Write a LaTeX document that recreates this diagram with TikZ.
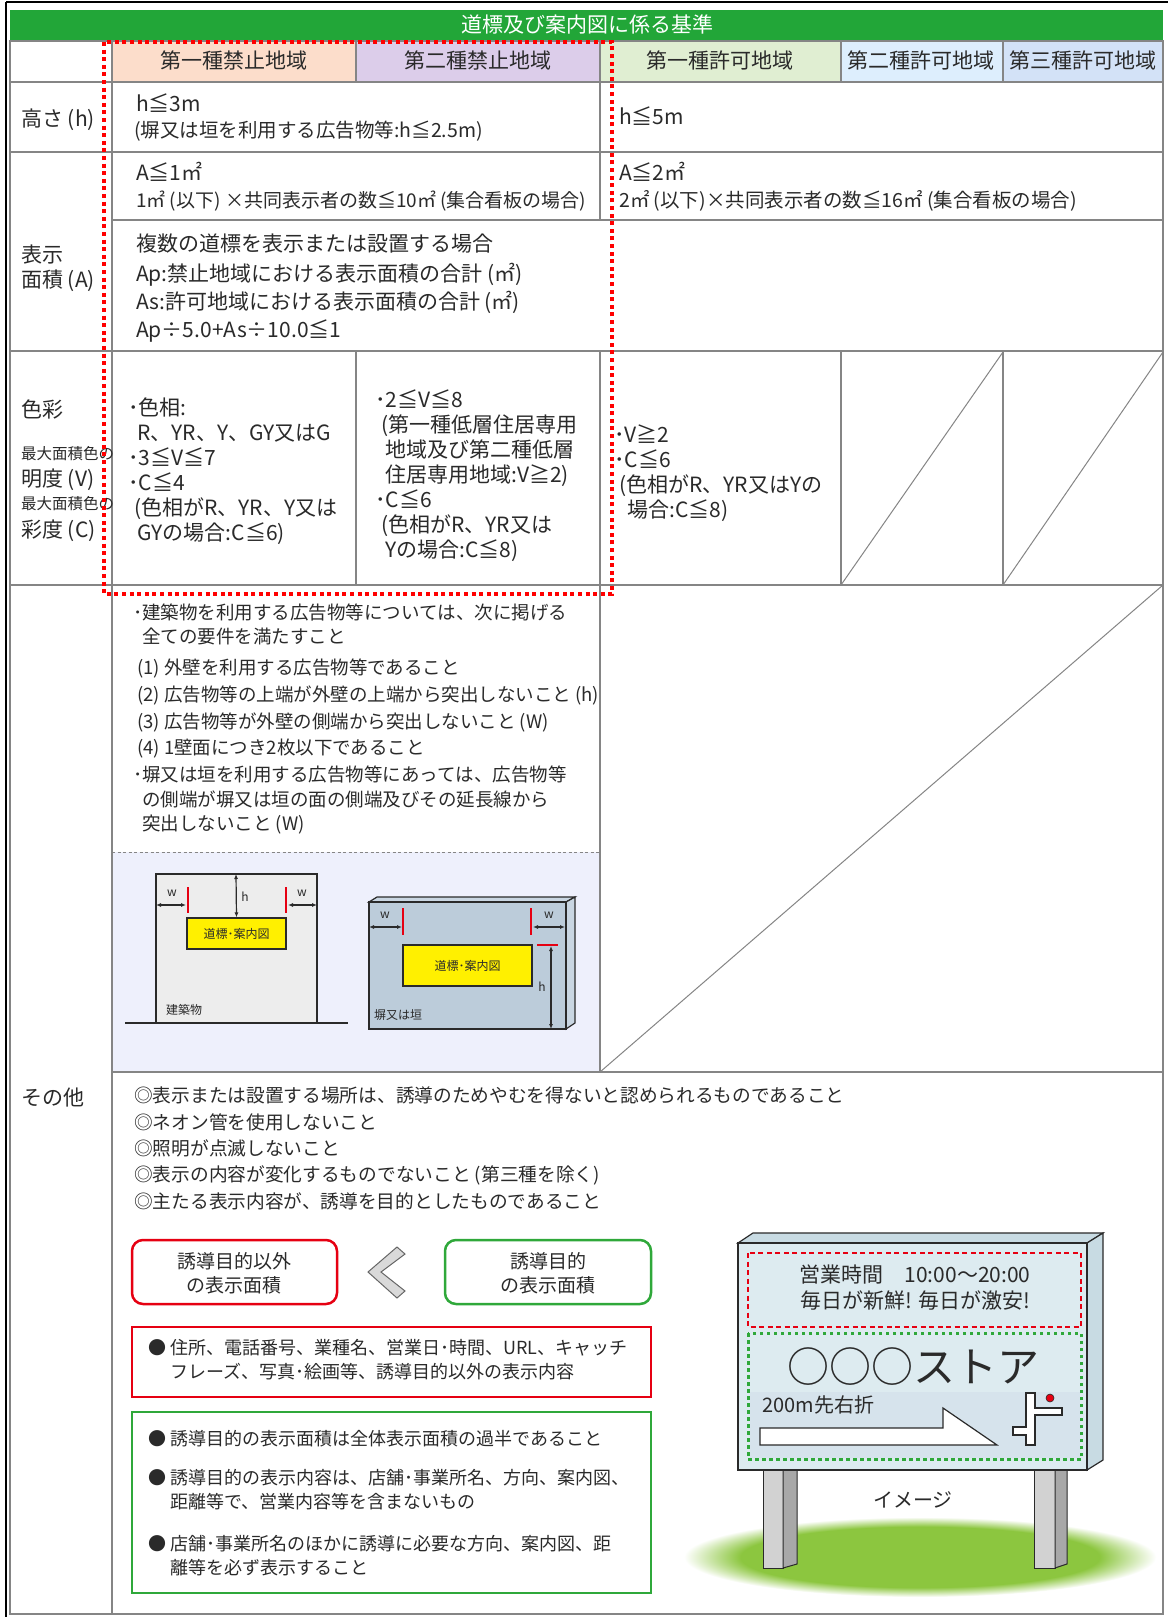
\documentclass[tikz,border=0pt]{standalone}
\usepackage{fontspec}
\setmainfont{Noto Sans CJK JP}
\usetikzlibrary{arrows.meta}
\definecolor{ink}{HTML}{2A2A2A}
\definecolor{grid}{HTML}{858585}
\definecolor{titleg}{HTML}{22A638}
\definecolor{hA}{HTML}{FCDDCB}
\definecolor{hB}{HTML}{DCCDEA}
\definecolor{hC}{HTML}{E0EED2}
\definecolor{hD}{HTML}{DDEEFD}
\definecolor{hE}{HTML}{D3E2F7}
\definecolor{illbg}{HTML}{EEF0FC}
\definecolor{bldg}{HTML}{EDEDED}
\definecolor{wall}{HTML}{BCCCDA}
\definecolor{wallf}{HTML}{C9D6E2}
\definecolor{signf}{HTML}{DDEBF0}
\definecolor{signs}{HTML}{C8DBE3}
\definecolor{band}{HTML}{D6E3EC}
\definecolor{grass}{HTML}{8CC63F}
\definecolor{redc}{HTML}{E60012}
\definecolor{greenc}{HTML}{2FA83A}
\definecolor{yel}{HTML}{FFF000}
\definecolor{postL}{HTML}{D2D2D2}
\definecolor{postD}{HTML}{A8A8A8}
\pgfdeclareradialshading{grassfade}{\pgfpoint{0bp}{0bp}}{color(0bp)=(grass); color(19bp)=(grass); color(25bp)=(white); color(50bp)=(white)}
\newcommand\T[6][base west]{\node[anchor=#1,inner sep=0pt,text=ink,font=\fontsize{#5}{#5}\selectfont] (#2) at (#3,{#4+0.38*#5}) {#6};}
\begin{document}
\begin{tikzpicture}[x=1pt,y=-1pt,
  gridline/.style={draw=grid,line width=1.3pt},
  arr/.style={ink,line width=1.2pt,{Latex[length=5pt,width=4pt]}-{Latex[length=5pt,width=4pt]}},
  tick/.style={draw=redc,line width=1.6pt},
  ybox/.style={draw=ink,fill=yel,line width=1.2pt,inner sep=0pt,text=ink,font=\fontsize{12}{12}\selectfont},
  small/.style={inner sep=0pt,text=ink,font=\fontsize{12}{12}\selectfont}]
\useasboundingbox (0,0) rectangle (1168,1617);
\fill[white] (0,0) rectangle (1168,1617);
% fills
\fill[titleg] (10,10) rectangle (1163,41);
\fill[hA] (112,41) rectangle (356,82);
\fill[hB] (356,41) rectangle (600,82);
\fill[hC] (600,41) rectangle (841,82);
\fill[hD] (841,41) rectangle (1003,82);
\fill[hE] (1003,41) rectangle (1163,82);
\fill[illbg] (112,852) rectangle (600,1072);
% grid
\draw[gridline] (10,41) rectangle (1163,1614);
\draw[gridline] (10,82) -- (1163,82);
\draw[gridline] (10,152) -- (1163,152);
\draw[gridline] (112,220) -- (1163,220);
\draw[gridline] (10,351) -- (1163,351);
\draw[gridline] (10,585) -- (1163,585);
\draw[gridline] (112,1072) -- (1163,1072);
\draw[gridline] (112,41) -- (112,1614);
\draw[gridline] (356,41) -- (356,82) (356,351) -- (356,585);
\draw[gridline] (600,41) -- (600,220) (600,351) -- (600,1072);
\draw[gridline] (841,41) -- (841,82) (841,351) -- (841,585);
\draw[gridline] (1003,41) -- (1003,82) (1003,351) -- (1003,585);
\draw[draw=grid,line width=1pt] (841,585) -- (1003,352) (1003,585) -- (1163,352) (600,1072) -- (1163,585);
\draw[draw=grid,line width=1pt,dash pattern=on 3pt off 2.5pt] (112,852) -- (600,852);
% outer black frame
\draw[black,line width=2.5pt] (6,2) -- (1168,2) (6,2) -- (6,1617);
% title and headers
\node[anchor=base,inner sep=0pt,text=white,font=\fontsize{21}{21}\selectfont] (title) at (587,{25+0.38*21}) {道標及び案内図に係る基準};
\T[base]{hd1}{234}{61}{21}{第一種禁止地域}
\T[base]{hd2}{478}{61}{21}{第二種禁止地域}
\T[base]{hd3}{720}{61}{21}{第一種許可地域}
\T[base]{hd4}{921}{61}{21}{第二種許可地域}
\T[base]{hd5}{1083}{61}{21}{第三種許可地域}
% label column
\T{lb1}{21}{119}{21}{高さ (h)}
\T{lb2}{21}{255}{21}{表示}
\T{lb3}{21}{280}{21}{面積 (A)}
\T{lb4}{21}{410}{21}{色彩}
\T{lb5}{21}{454}{15.5}{最大面積色の}
\T{lb6}{21}{479}{21}{明度 (V)}
\T{lb7}{21}{504}{15.5}{最大面積色の}
\T{lb8}{21}{530}{21}{彩度 (C)}
\T{lb9}{21}{1098}{21}{その他}
% height / area rows
\T{r1}{136}{104}{21}{h≦3m}
\T{r2}{134}{130}{19.5}{(塀又は垣を利用する広告物等:h≦2.5m)}
\T{r3}{619}{117}{21}{h≦5m}
\T{r4}{136}{173}{21}{A≦1㎡}
\T{r5}{136}{200}{19}{1㎡ (以下) ×共同表示者の数≦10㎡ (集合看板の場合)}
\T{r6}{619}{173}{21}{A≦2㎡}
\T{r7}{619}{200}{19.5}{2㎡ (以下)×共同表示者の数≦16㎡ (集合看板の場合)}
\T{r8}{136}{244}{21}{複数の道標を表示または設置する場合}
\T{r9}{136}{274}{21}{Ap:禁止地域における表示面積の合計 (㎡)}
\T{r10}{136}{302}{21}{As:許可地域における表示面積の合計 (㎡)}
\T{r11}{136}{330}{21}{Ap÷5.0+As÷10.0≦1}
% colour row
\T{c1}{128}{408}{21}{･色相:}
\T{c2}{137}{433}{21}{R、YR、Y、GY又はG}
\T{c3}{128}{458}{21}{･3≦V≦7}
\T{c4}{128}{483}{21}{･C≦4}
\T{c5}{134}{508}{21}{(色相がR、YR、Y又は}
\T{c6}{137}{533}{21}{GYの場合:C≦6)}
\T{d1}{375}{400}{21}{･2≦V≦8}
\T{d2}{381}{425}{21}{(第一種低層住居専用}
\T{d3}{385}{450}{21}{地域及び第二種低層}
\T{d4}{385}{475}{21}{住居専用地域:V≧2)}
\T{d5}{375}{500}{21}{･C≦6}
\T{d6}{381}{525}{21}{(色相がR、YR又は}
\T{d7}{385}{550}{21}{Yの場合:C≦8)}
\T{e1}{614}{435}{21}{･V≧2}
\T{e2}{614}{460}{21}{･C≦6}
\T{e3}{619}{485}{21}{(色相がR、YR又はYの}
\T{e4}{627}{510}{21}{場合:C≦8)}
% other: requirements
\T{o1}{133}{612}{18.5}{･建築物を利用する広告物等については、次に掲げる}
\T{o2}{142}{636}{18.5}{全ての要件を満たすこと}
\T{o3}{137}{667}{18.5}{(1) 外壁を利用する広告物等であること}
\T{o4}{137}{694}{18.5}{(2) 広告物等の上端が外壁の上端から突出しないこと (h)}
\T{o5}{137}{721}{18.5}{(3) 広告物等が外壁の側端から突出しないこと (W)}
\T{o6}{137}{747}{18.5}{(4) 1壁面につき2枚以下であること}
\T{o7}{133}{774}{18.5}{･塀又は垣を利用する広告物等にあっては、広告物等}
\T{o8}{142}{799}{18.5}{の側端が塀又は垣の面の側端及びその延長線から}
\T{o9}{142}{823}{18.5}{突出しないこと (W)}
% illustration 1: building
\draw[fill=bldg,draw=ink,line width=1.2pt] (156,1023) -- (156,874) -- (317,874) -- (317,1023);
\draw[ink,line width=1.5pt] (125,1023) -- (348,1023);
\node[ybox,minimum width=99pt,minimum height=31pt] (yb1) at (236.5,933.5) {道標･案内図};
\coordinate (b1top) at (236,874);
\coordinate (b1l) at (156,905);
\coordinate (b1r) at (317,905);
\coordinate (t1a) at (188,887);
\coordinate (t1b) at (188,913);
\coordinate (t2a) at (286,887);
\coordinate (t2b) at (286,913);
\draw[tick] (t1a) -- (t1b);
\draw[tick] (t2a) -- (t2b);
\draw[arr] (b1l) -- (186,905);
\draw[arr] (288,905) -- (b1r);
\draw[arr] (b1top) -- (yb1.north);
\node[small] (w1) at (172,893) {w};
\node[small] (w2) at (302,893) {w};
\node[small] (h1) at (245,897) {h};
\node[small,anchor=west] (bl1) at (166,1010) {建築物};
% illustration 2: wall
\draw[fill=wallf,draw=ink,line width=1.2pt] (369,902) -- (377,897) -- (575,897) -- (566,902) -- cycle;
\draw[fill=wallf,draw=ink,line width=1.2pt] (566,902) -- (575,897) -- (575,1023) -- (566,1029) -- cycle;
\draw[fill=wall,draw=ink,line width=1.2pt] (369,902) rectangle (566,1029);
\node[ybox,minimum width=129pt,minimum height=41pt] (yb2) at (467.5,965.5) {道標･案内図};
\draw[tick] (403,908) -- (403,935);
\draw[tick] (531,908) -- (531,935);
\draw[tick] (537,945) -- (558,945);
\draw[arr] (369,927) -- (402,927);
\draw[arr] (533,927) -- (565,927);
\draw[arr] (551,946) -- (551,1029);
\node[small] (w3) at (385,915) {w};
\node[small] (w4) at (549,915) {w};
\node[small] (h2) at (542,987) {h};
\node[small,anchor=west] (bl2) at (374,1015) {塀又は垣};
% lower: general conditions
\T{g1}{134}{1095}{18.7}{◎表示または設置する場所は、誘導のためやむを得ないと認められるものであること}
\T{g2}{134}{1122}{18.7}{◎ネオン管を使用しないこと}
\T{g3}{134}{1148}{18.7}{◎照明が点滅しないこと}
\T{g4}{134}{1174}{18.7}{◎表示の内容が変化するものでないこと (第三種を除く)}
\T{g5}{134}{1201}{18.7}{◎主たる表示内容が、誘導を目的としたものであること}
% comparison boxes
\draw[redc,line width=2.5pt,rounded corners=11pt] (132,1240) rectangle (337,1304);
\draw[greenc,line width=2.5pt,rounded corners=11pt] (445,1240) rectangle (651,1304);
\T[base]{k1}{234}{1261}{19}{誘導目的以外}
\T[base]{k2}{234}{1285}{19}{の表示面積}
\T[base]{k3}{548}{1261}{19}{誘導目的}
\T[base]{k4}{548}{1285}{19}{の表示面積}
\draw[fill=black!15,draw=black!60,line width=1pt,line join=miter] (368,1272) -- (397,1247) -- (405,1254) -- (381,1272) -- (405,1291) -- (397,1298) -- cycle;
% red list
\draw[redc,line width=2.5pt] (132,1327) rectangle (651,1397);
\T{m0}{148}{1348}{18}{●}
\T{m1}{170}{1348}{18}{住所、電話番号、業種名、営業日･時間、URL、キャッチ}
\T{m2}{170}{1372}{18}{フレーズ、写真･絵画等、誘導目的以外の表示内容}
% green list
\draw[greenc,line width=2.5pt] (132,1412) rectangle (651,1593);
\T{n0}{148}{1439}{18}{●}
\T{n1}{170}{1439}{18}{誘導目的の表示面積は全体表示面積の過半であること}
\T{n2}{148}{1478}{18}{●}
\T{n3}{170}{1478}{18}{誘導目的の表示内容は、店舗･事業所名、方向、案内図、}
\T{n4}{170}{1502}{18}{距離等で、営業内容等を含まないもの}
\T{n5}{148}{1544}{18}{●}
\T{n6}{170}{1544}{18}{店舗･事業所名のほかに誘導に必要な方向、案内図、距}
\T{n7}{170}{1568}{18}{離等を必ず表示すること}
% sign illustration
\shade[shading=grassfade] (920,1557) ellipse [x radius=236pt,y radius=40pt];
\draw[fill=postL,draw=ink,line width=1pt] (763,1460) rectangle (783,1568);
\draw[fill=postD,draw=ink,line width=1pt] (783,1460) -- (797,1460) -- (797,1564) -- (783,1568) -- cycle;
\draw[fill=postL,draw=ink,line width=1pt] (1034,1460) rectangle (1055,1568);
\draw[fill=postD,draw=ink,line width=1pt] (1055,1460) -- (1067,1460) -- (1067,1564) -- (1055,1568) -- cycle;
\draw[fill=signs,draw=ink,line width=1.2pt] (738,1243) -- (753,1233) -- (1103,1233) -- (1087,1243) -- cycle;
\draw[fill=signs,draw=ink,line width=1.2pt] (1087,1243) -- (1103,1233) -- (1103,1460) -- (1087,1470) -- cycle;
\draw[fill=signf,draw=ink,line width=1.5pt] (738,1243) rectangle (1087,1470);
\fill[band] (750,1392) rectangle (1080,1458);
\draw[redc,line width=2.5pt,dash pattern=on 5pt off 3.5pt] (748,1253) rectangle (1081,1327);
\draw[greenc,line width=3pt,dash pattern=on 3.5pt off 3.5pt] (748,1333) rectangle (1081,1459);
\T[base]{s1}{915}{1275}{21}{営業時間　10:00～20:00}
\T[base]{s2}{915}{1301}{21}{毎日が新鮮! 毎日が激安!}
\T[base]{s3}{913}{1367}{42}{○○○ストア}
\T{s4}{762}{1405}{20}{200m先右折}
\draw[fill=white,draw=ink,line width=1.2pt] (760,1428) -- (943,1428) -- (943,1408) -- (997,1445) -- (760,1445) -- cycle;
\draw[fill=white,draw=ink,line width=1.1pt] (1026,1393) -- (1035,1393) -- (1035,1408) -- (1062,1408) -- (1062,1415) -- (1035,1415) -- (1035,1445) -- (1026,1445) -- (1026,1435) -- (1013,1435) -- (1013,1427) -- (1026,1427) -- cycle;
\fill[redc] (1050,1398) circle (4pt);
\draw[ink,line width=0.6pt] (1050,1398) circle (4pt);
\T[base]{s5}{913}{1500}{20}{イメージ}
% red dotted frame (forbidden zones)
\draw[red,line width=4pt,dash pattern=on 4pt off 3.6pt] (104,42) rectangle (612,594);
\end{tikzpicture}
\end{document}
